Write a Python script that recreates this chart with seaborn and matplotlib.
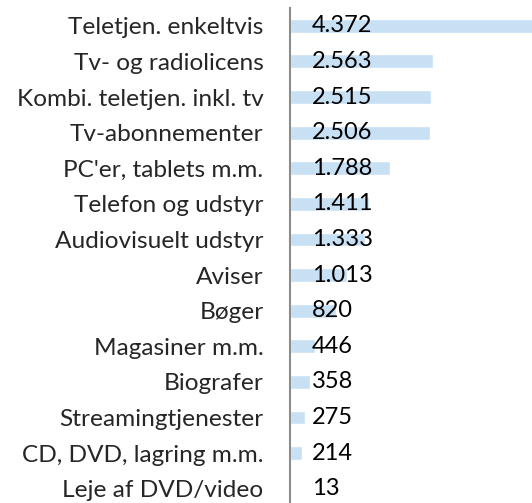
import pandas as pd
import matplotlib
matplotlib.use("Agg")
import matplotlib.pyplot as plt
import seaborn as sns

# data
categories = ['Teletjen. enkeltvis', 'Tv- og radiolicens', 'Kombi. teletjen. inkl. tv',
              'Tv-abonnementer', "PC'er, tablets m.m.", 'Telefon og udstyr',
              'Audiovisuelt udstyr', 'Aviser', 'Bøger', 'Magasiner m.m.', 'Biografer',
              'Streamingtjenester', 'CD, DVD, lagring m.m.', 'Leje af DVD/video']
values = [4372, 2563, 2515, 2506, 1788, 1411, 1333, 1013, 820, 446, 358, 275, 214, 13]

df = pd.DataFrame({'kategori': categories, 'vaerdi': values})

sns.set_style('white')
plt.rcParams['font.family'] = ['Lato', 'DejaVu Sans']

fig = plt.figure(figsize=(5.32, 5.03), dpi=100)
ax = fig.add_axes([290 / 532, 0, 1 - 290 / 532, 495 / 503])

sns.barplot(data=df, x='vaerdi', y='kategori', orient='h', color='#c8e0f4',
            saturation=1, width=0.39, ax=ax)

ax.set_xlim(0, 4330)
ax.set_ylim(13.4, -0.5)

# value labels, danish thousand separator
for i, v in enumerate(values):
    txt = f'{v:,}'.replace(',', '.')
    ax.annotate(txt, (0, i), xytext=(15.5, 0), textcoords='offset points',
                ha='left', va='center', fontsize=17, color='black')

ax.set_xlabel('')
ax.set_ylabel('')
ax.set_xticks([])
ax.tick_params(axis='y', length=0, pad=19, labelsize=17.6)
for s in ['top', 'right', 'bottom']:
    ax.spines[s].set_visible(False)
ax.spines['left'].set_color('#8c8c8c')
ax.spines['left'].set_linewidth(1.5)

fig.savefig('out.png', dpi=100)
